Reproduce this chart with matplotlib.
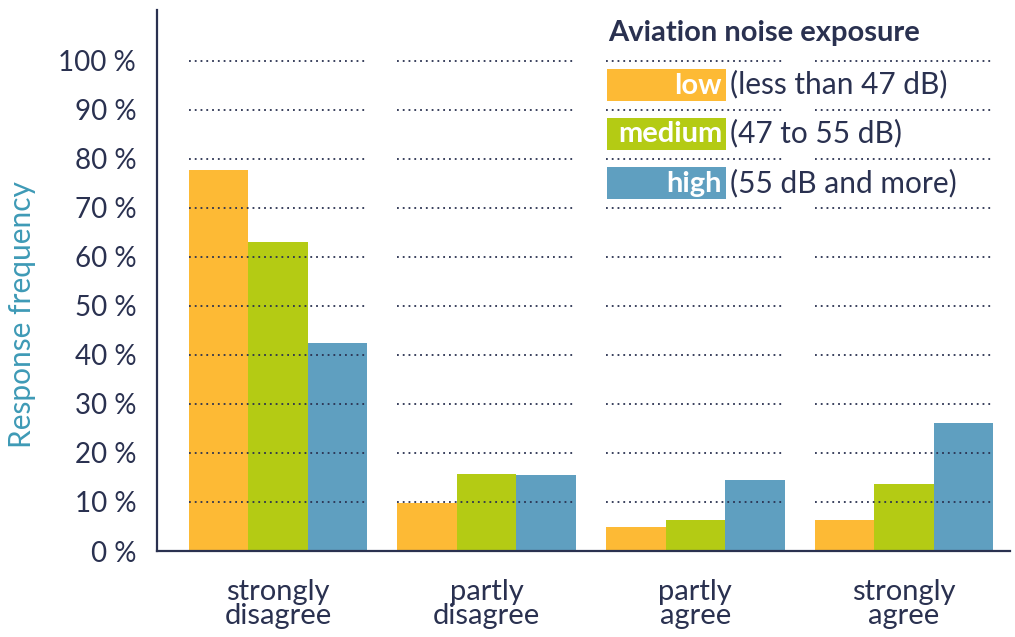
import matplotlib
matplotlib.use("Agg")
import matplotlib.pyplot as plt
from matplotlib.patches import Rectangle
import numpy as np

categories = ["strongly\ndisagree", "partly\ndisagree", "partly\nagree", "strongly\nagree"]
low = [77.8, 9.8, 4.9, 6.3]
medium = [63.1, 15.7, 6.3, 13.7]
high = [42.4, 15.5, 14.5, 26.1]
series_names = ["low", "medium", "high"]
series_desc = ["(less than 47 dB)", "(47 to 55 dB)", "(55 dB and more)"]
yticks = [0, 10, 20, 30, 40, 50, 60, 70, 80, 90, 100]

colors = ["#FDBA35", "#B4CB14", "#5F9FC0"]
navy = "#2A3150"
teal = "#3E9AB6"

plt.rcParams["font.family"] = ["Lato", "DejaVu Sans"]

W, H = 1015, 637
fig = plt.figure(figsize=(W / 100, H / 100), dpi=100)


def fx(px):
    return px / W


def fy(py):
    return 1 - py / H


ax = fig.add_axes([fx(157), fy(551), fx(1010) - fx(157), fy(10) - fy(551)])

x = np.arange(len(categories))
w = 0.285
for k, vals in enumerate([low, medium, high]):
    ax.bar(x + (k - 1) * w, vals, width=w, color=colors[k], zorder=2, linewidth=0)

# dotted grid segments over each group only
for i in x:
    ax.hlines(yticks[1:], i - 1.5 * w, i + 1.5 * w, colors=navy,
              linestyles=(0, (1, 2.2)), linewidth=1.3, zorder=3)

ax.set_xlim(-0.58, 3.508)
ax.set_ylim(0, 110.4)
ax.set_yticks(yticks)
ax.set_yticklabels([f"{t} %" for t in yticks], fontsize=20, color=navy)
ax.set_xticks(x)
ax.set_xticklabels(categories, fontsize=21, color=navy, linespacing=0.9)
ax.tick_params(axis="y", length=0, pad=15)
ax.tick_params(axis="x", length=0, pad=20)
for s in ["top", "right"]:
    ax.spines[s].set_visible(False)
for s in ["left", "bottom"]:
    ax.spines[s].set_color(navy)
    ax.spines[s].set_linewidth(1.6)

fig.text(fx(22), fy(315), "Response frequency", rotation=90, color=teal,
         fontsize=21.5, ha="center", va="center")

# legend
fig.text(fx(608), fy(33), "Aviation noise exposure", fontsize=21,
         fontweight="bold", color=navy, ha="left", va="center")
row_y = [84.5, 133.5, 183]
for k in range(3):
    fig.patches.append(Rectangle((fx(607), fy(row_y[k] + 16)), fx(726) - fx(607),
                                 fy(row_y[k] - 16) - fy(row_y[k] + 16),
                                 transform=fig.transFigure, color=colors[k],
                                 zorder=5, linewidth=0))
    fig.text(fx(722), fy(row_y[k] + 1), series_names[k], fontsize=21,
             fontweight="bold", color="white", ha="right", va="center", zorder=6)
    fig.text(fx(730), fy(row_y[k]), series_desc[k], fontsize=21.5,
             color=navy, ha="left", va="center", zorder=6)

fig.savefig("out.png", dpi=100, facecolor="white")
